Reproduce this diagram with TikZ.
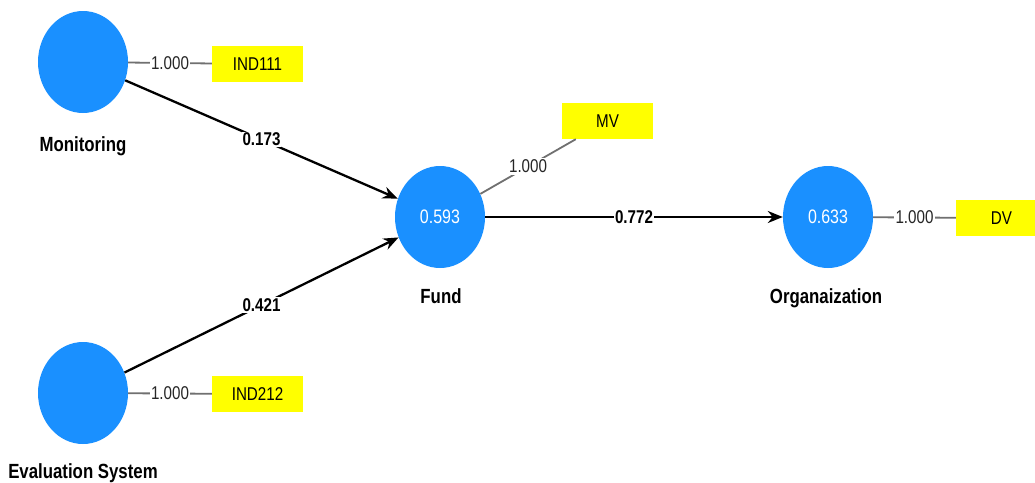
\documentclass[tikz,border=0pt]{standalone}
\usepackage{fontspec}
\setmainfont[FakeStretch=0.82]{Liberation Sans}
\usetikzlibrary{arrows.meta,shapes.geometric}
\definecolor{latentblue}{HTML}{1A90FF}
\definecolor{indyellow}{HTML}{FFFF00}
\definecolor{loadgrey}{HTML}{707070}
\tikzset{
  latent/.style={ellipse, fill=latentblue, draw=none, minimum width=90pt, minimum height=102pt, inner sep=0pt,
    text=white, font=\fontsize{19.5}{22}\selectfont},
  indicator/.style={rectangle, fill=indyellow, draw=none, minimum width=91pt, minimum height=36pt, inner sep=0pt,
    font=\fontsize{18.5}{21}\selectfont},
  caption/.style={font=\bfseries\fontsize{20.5}{24}\selectfont, inner sep=0pt, anchor=base},
  path/.style={line width=2.3pt, -{Stealth[length=15pt,width=12pt]}},
  coef/.style={fill=white, inner sep=1pt, font=\bfseries\fontsize{18.5}{21}\selectfont},
  loading/.style={draw=loadgrey, line width=1.8pt},
  loadlabel/.style={fill=white, inner sep=1.5pt, font=\fontsize{18.5}{21}\selectfont, text=black!85}
}
\begin{document}
\begin{tikzpicture}[x=1pt,y=-1pt]
  \useasboundingbox[fill=white] (0,0) rectangle (1035,482);

  % latent variables
  \node[latent] (mon)  at (83,62)  {};
  \node[latent] (eval) at (83,393) {};
  \node[latent] (fund) at (440,217) {0.593};
  \node[latent] (org)  at (828,217) {0.633};

  % construct names (placed on their baselines)
  \node[caption] (monlab)  at (83,151)  {Monitoring};
  \node[caption] (evallab) at (83,478)  {Evaluation System};
  \node[caption] (fundlab) at (441,303) {Fund};
  \node[caption] (orglab)  at (826,303) {Organaization};

  % indicators
  \node[indicator] (ind111) at (257.5,64)  {IND111};
  \node[indicator] (ind212) at (257.5,394) {IND212};
  \node[indicator] (mv)     at (607.5,121) {MV};
  \node[indicator] (dv)     at (1001.5,218) {DV};

  % outer loadings
  \draw[loading] (mon)  -- node[loadlabel] {1.000} (ind111);
  \draw[loading] (eval) -- node[loadlabel] {1.000} (ind212);
  \draw[loading] (fund) -- node[loadlabel] {1.000} (mv);
  \draw[loading] (org)  -- node[loadlabel] {1.000} (dv);

  % structural paths
  \draw[path] (mon)  -- node[coef] {0.173} (fund);
  \draw[path] (eval) -- node[coef] {0.421} (fund);
  \draw[path] (fund) -- node[coef] {0.772} (org);
\end{tikzpicture}
\end{document}
